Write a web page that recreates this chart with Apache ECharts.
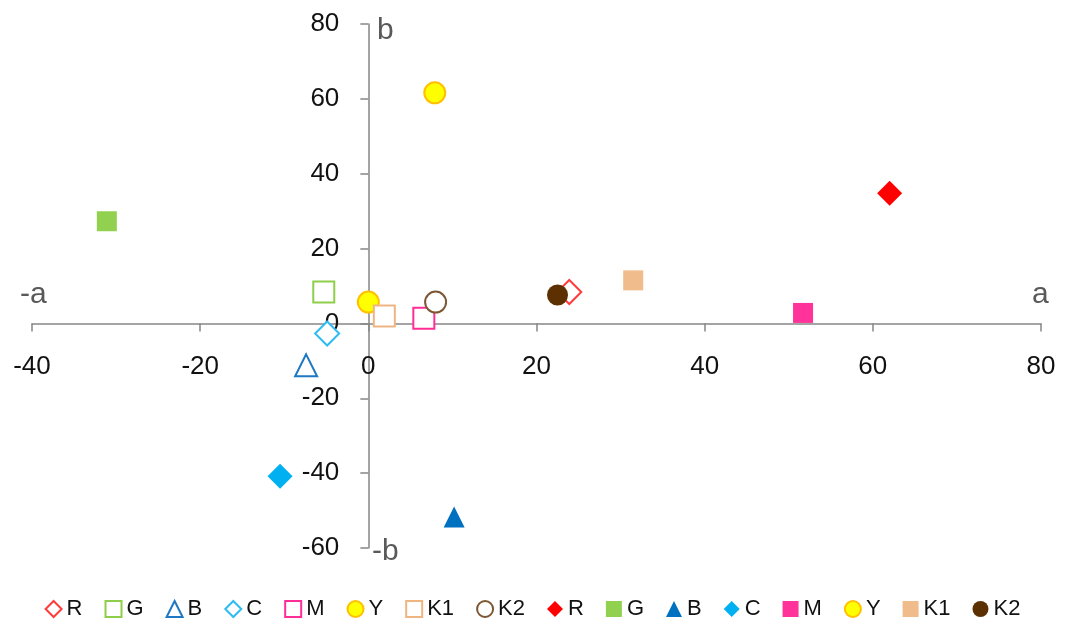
<!DOCTYPE html>
<html>
<head>
<meta charset="utf-8">
<script src="https://cdn.jsdelivr.net/npm/echarts@6/dist/echarts.min.js"></script>
<style>
  html, body { margin: 0; padding: 0; background: #fff; }
  #chart { width: 1065px; height: 626px; }
</style>
</head>
<body>
<div id="chart"></div>
<script>
// 色块名称
const labels = ['R', 'G', 'B', 'C', 'M', 'Y', 'K1', 'K2']
// 空心标记 (a, b)
const openA = [23.9, -5.3, -7.4, -4.9, 6.6, 0.0, 1.9, 8.0]
const openB = [8.4, 8.4, -11.2, -2.7, 1.4, 5.7, 2.0, 5.7]
// 实心标记 (a, b)
const filledA = [62.0, -31.1, 10.2, -10.5, 51.7, 7.9, 31.5, 22.5]
const filledB = [34.8, 27.3, -51.7, -40.8, 2.8, 61.6, 11.5, 7.6]
// 刻度
const xTicks = [-40, -20, 0, 20, 40, 60, 80]
const yTicks = [-60, -40, -20, 0, 20, 40, 60, 80]

const symbols = ['diamond', 'rect', 'triangle', 'diamond', 'rect', 'circle', 'rect', 'circle']
const openColors = ['#ff3c3c', '#8fce4a', '#1f78c4', '#2ebcf2', '#ff2e97', '#ffc000', '#eeb583', '#7d5633']
const filledColors = ['#ff0000', '#92d050', '#0070c0', '#00b0f0', '#ff3399', '#ffc000', '#f0bc8c', '#5c3000']
const openSizes = [24, 21, 22, 24, 21, 21, 21, 21]
const filledSizes = [25, 20, 21, 25, 20, 21, 20, 21]

const series = []
labels.forEach((name, i) => {
  const isY = name === 'Y'
  series.push({
    name: 'o:' + name,
    type: 'scatter',
    symbol: symbols[i],
    symbolSize: openSizes[i],
    itemStyle: {
      color: isY ? '#ffff00' : '#ffffff',
      borderColor: openColors[i],
      borderWidth: 2,
      opacity: 1
    },
    data: [[openA[i], openB[i]]]
  })
})
labels.forEach((name, i) => {
  const isY = name === 'Y'
  series.push({
    name: 'f:' + name,
    type: 'scatter',
    symbol: symbols[i],
    symbolSize: filledSizes[i],
    itemStyle: {
      color: isY ? '#ffff00' : filledColors[i],
      borderColor: isY ? '#ffc000' : filledColors[i],
      borderWidth: isY ? 2 : 0,
      opacity: 1
    },
    data: [[filledA[i], filledB[i]]]
  })
})

const axisColor = '#868686'
const font = 'Liberation Sans, Arial, sans-serif'
const nameStyle = { fontSize: 30, fill: '#595959', fontFamily: font, textVerticalAlign: 'middle' }
const gridBox = { left: 32, right: 24, top: 24, bottom: 78 }

const chart = echarts.init(document.getElementById('chart'))
const option = {
  animation: false,
  backgroundColor: '#fff',
  grid: Object.assign({ outerBoundsMode: 'none', containLabel: false }, gridBox),
  legend: {
    left: 'center',
    top: 593,
    itemWidth: 16,
    itemHeight: 16,
    itemGap: 22,
    formatter: name => name.slice(2),
    textStyle: { fontSize: 22, color: '#111', fontFamily: font }
  },
  xAxis: {
    type: 'value',
    min: xTicks[0],
    max: xTicks[xTicks.length - 1],
    interval: 20,
    axisLine: { onZero: false, lineStyle: { color: axisColor, width: 1.5 } },
    axisTick: { show: true, length: 8, lineStyle: { color: axisColor, width: 1.5 } },
    axisLabel: { margin: 30, fontSize: 26, color: '#111', fontFamily: font },
    splitLine: { show: false }
  },
  yAxis: {
    type: 'value',
    min: yTicks[0],
    max: yTicks[yTicks.length - 1],
    interval: 20,
    axisLine: { show: true, onZero: false, lineStyle: { color: axisColor, width: 1.5 } },
    axisTick: { show: true, length: 8, lineStyle: { color: axisColor, width: 1.5 } },
    axisLabel: { margin: 29, fontSize: 26, color: '#111', fontFamily: font },
    splitLine: { show: false }
  },
  // 坐标轴名称
  graphic: [
    { type: 'text', style: Object.assign({ x: 20, y: 295, text: '-a' }, nameStyle) },
    { type: 'text', style: Object.assign({ x: 1032, y: 295, text: 'a' }, nameStyle) },
    { type: 'text', style: Object.assign({ x: 377, y: 31, text: 'b' }, nameStyle) },
    { type: 'text', style: Object.assign({ x: 372, y: 552, text: '-b' }, nameStyle) }
  ],
  series: series
}
chart.setOption(option)

// 坐标轴移到原点处（连同刻度标签）
const origin = chart.convertToPixel({ gridIndex: 0 }, [0, 0])
chart.setOption({
  xAxis: { offset: origin[1] - (626 - gridBox.bottom) },
  yAxis: { offset: gridBox.left - origin[0] }
})
</script>
</body>
</html>
